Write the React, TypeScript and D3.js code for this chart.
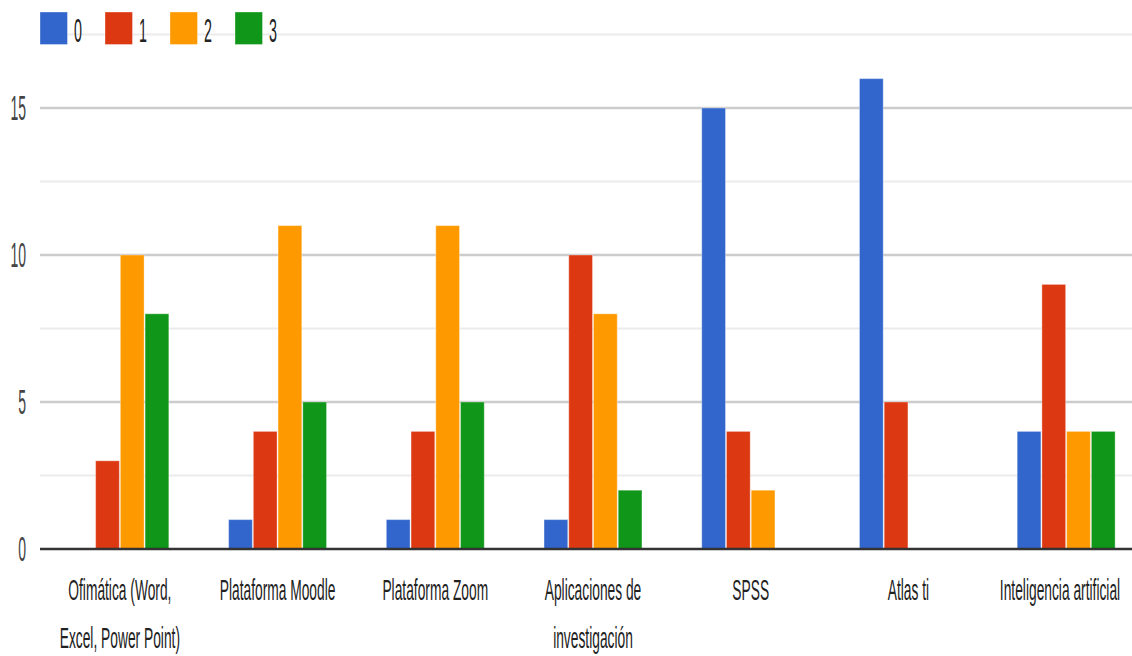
import React from "react";
import * as d3 from "d3";

const categories = [
  "Ofimática (Word, Excel, Power Point)",
  "Plataforma Moodle",
  "Plataforma Zoom",
  "Aplicaciones de investigación",
  "SPSS",
  "Atlas ti",
  "Inteligencia artificial",
];
const categoryLines = [
  ["Ofimática (Word,", "Excel, Power Point)"],
  ["Plataforma Moodle"],
  ["Plataforma Zoom"],
  ["Aplicaciones de", "investigación"],
  ["SPSS"],
  ["Atlas ti"],
  ["Inteligencia artificial"],
];
const seriesNames = ["0", "1", "2", "3"];
const series0 = [0, 1, 1, 1, 15, 16, 4];
const series1 = [3, 4, 4, 10, 4, 5, 9];
const series2 = [10, 11, 11, 8, 2, 0, 4];
const series3 = [8, 5, 5, 2, 0, 0, 4];
const seriesValues = [series0, series1, series2, series3];
const colors = ["#3366cc", "#dc3912", "#ff9900", "#109618"];
const majorTicks = [0, 5, 10, 15];
const minorTicks = [2.5, 7.5, 12.5, 17.5];

const W = 1132;
const H = 656;
const FONT = "'Liberation Sans', Arial, sans-serif";

export default function App() {
  const x0 = d3
    .scaleBand<string>()
    .domain(categories)
    .range([41, 1145])
    .paddingInner(0.379)
    .paddingOuter(0.1895);
  const x1 = d3
    .scaleBand<string>()
    .domain(seriesNames)
    .range([0, x0.bandwidth()])
    .paddingInner(0.04);
  const y = d3.scaleLinear().domain([0, 17.5]).range([549, 34.5]);

  return (
    <svg
      width={W}
      height={H}
      style={{ position: "absolute", left: 0, top: 0, background: "#fff" }}
    >
      <defs>
        <clipPath id="plot">
          <rect x={0} y={0} width={W} height={H} />
        </clipPath>
      </defs>
      {minorTicks.map((t) => (
        <line
          key={"mi" + t}
          x1={40}
          x2={W}
          y1={y(t)}
          y2={y(t)}
          stroke="#ebebeb"
          strokeWidth={2}
        />
      ))}
      {majorTicks
        .filter((t) => t !== 0)
        .map((t) => (
          <line
            key={"ma" + t}
            x1={40}
            x2={W}
            y1={y(t)}
            y2={y(t)}
            stroke="#cccccc"
            strokeWidth={2.5}
          />
        ))}
      {majorTicks.map((t) => (
        <text
          key={"tl" + t}
          transform={`translate(26,${y(t) + 12}) scale(0.4,1)`}
          textAnchor="end"
          fontFamily={FONT}
          fontSize={35}
          fill="#444"
        >
          {t}
        </text>
      ))}
      <g clipPath="url(#plot)">
        {categories.map((c, ci) => (
          <g key={c} transform={`translate(${x0(c)},0)`}>
            {seriesNames.map((s, si) => {
              const v = seriesValues[si][ci];
              if (!v) return null;
              return (
                <rect
                  key={s}
                  x={x1(s)}
                  y={y(v)}
                  width={x1.bandwidth()}
                  height={y(0) - y(v)}
                  fill={colors[si]}
                  stroke="#ffffff"
                  strokeOpacity={0.35}
                  strokeWidth={1}
                />
              );
            })}
          </g>
        ))}
      </g>
      <line x1={40} x2={W} y1={y(0)} y2={y(0)} stroke="#333" strokeWidth={2.5} />
      {categories.map((c, ci) => {
        const cx = (x0(c) as number) + x0.bandwidth() / 2;
        return (
          <g key={"lab" + c}>
            {categoryLines[ci].map((ln, li) => (
              <text
                key={li}
                transform={`translate(${Math.min(cx, 1060)},${600 + li * 48}) scale(0.46,1)`}
                textAnchor="middle"
                fontFamily={FONT}
                fontSize={30}
                fill="#222"
              >
                {ln}
              </text>
            ))}
          </g>
        );
      })}
      {seriesNames.map((s, si) => (
        <g key={"lg" + s} transform={`translate(${40 + si * 65},0)`}>
          <rect x={0} y={12} width={27.5} height={32.5} fill={colors[si]} stroke="#ffffff" strokeOpacity={0.35} />
          <text
            transform={`translate(34,42) scale(0.42,1)`}
            fontFamily={FONT}
            fontSize={34}
            fill="#222"
          >
            {s}
          </text>
        </g>
      ))}
    </svg>
  );
}
